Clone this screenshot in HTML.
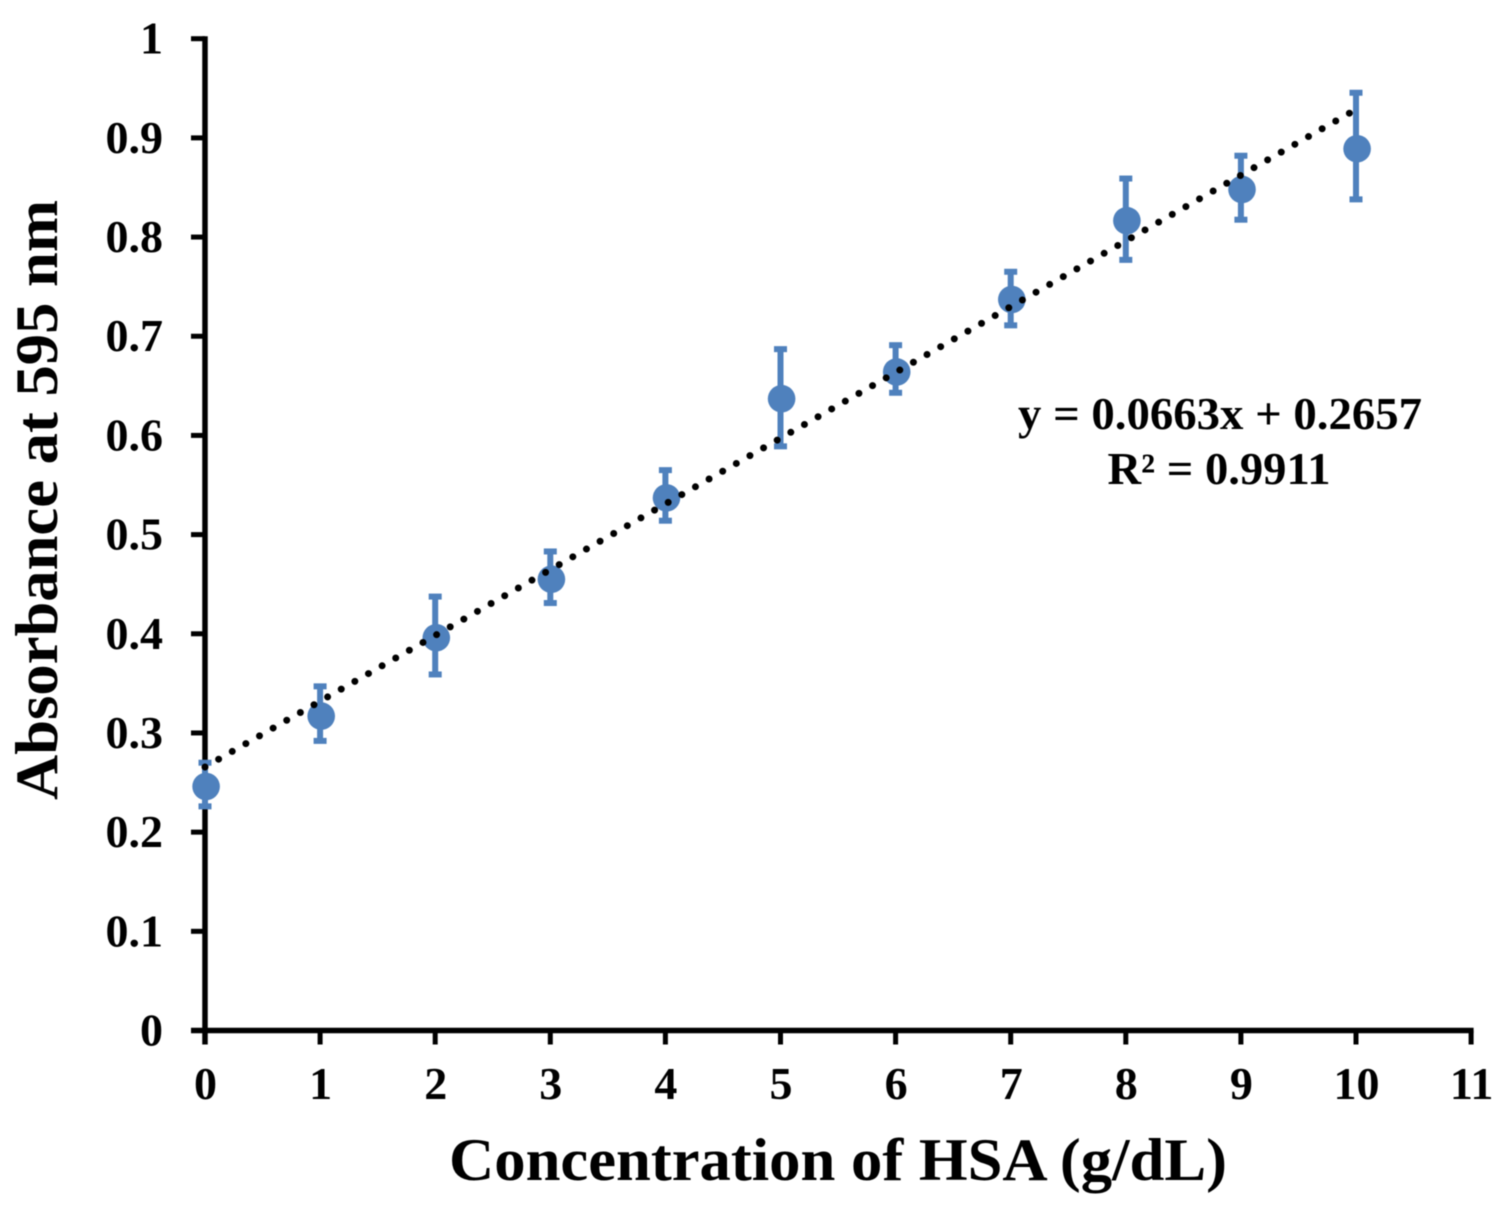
<!DOCTYPE html>
<html lang="en">
<head>
<meta charset="utf-8">
<title>Absorbance at 595 nm vs Concentration of HSA</title>
<style>
html,body{margin:0;padding:0;background:#fff;width:1507px;height:1211px;overflow:hidden}
svg{display:block;filter:blur(0.6px)}
text{font-family:"Liberation Serif",serif;font-weight:bold;fill:#000}
</style>
</head>
<body>
<svg id="chart" xmlns="http://www.w3.org/2000/svg" width="1507" height="1211" viewBox="0 0 1507 1211">
<rect width="1507" height="1211" fill="#fff"/>
<g id="axes"></g>
<g id="series"></g>
<text x="838" y="1180" text-anchor="middle" font-size="60" textLength="778" lengthAdjust="spacingAndGlyphs">Concentration of HSA (g/dL)</text>
<text transform="translate(57,500) rotate(-90)" text-anchor="middle" font-size="60" textLength="600" lengthAdjust="spacingAndGlyphs">Absorbance at 595 nm</text>
<text x="1220" y="429" text-anchor="middle" font-size="45" textLength="404" lengthAdjust="spacingAndGlyphs">y = 0.0663x + 0.2657</text>
<text x="1219" y="484" text-anchor="middle" font-size="45" textLength="223" lengthAdjust="spacingAndGlyphs">R² = 0.9911</text>
</svg>
<script>
const xValues = [0, 1, 2, 3, 4, 5, 6, 7, 8, 9, 10];
const yValues = [0.246, 0.317, 0.396, 0.455, 0.537, 0.637, 0.664, 0.737, 0.8165, 0.848, 0.889];
const errUpper = [0.270, 0.347, 0.4375, 0.483, 0.565, 0.687, 0.691, 0.765, 0.859, 0.882, 0.9455];
const errLower = [0.226, 0.292, 0.359, 0.431, 0.514, 0.589, 0.643, 0.711, 0.777, 0.8175, 0.838];
const xTickValues = [0, 1, 2, 3, 4, 5, 6, 7, 8, 9, 10, 11];
const yTickValues = [0, 0.1, 0.2, 0.3, 0.4, 0.5, 0.6, 0.7, 0.8, 0.9, 1];
const trendSlope = 0.0663;
const trendIntercept = 0.2657;
const trendEndX = 9.96;

const NS = 'http://www.w3.org/2000/svg';
const sx = v => 205 + v * 115.1;
const sy = v => 1030.5 - v * 991.8;
function mk(parent, tag, attrs, txt) {
  const el = document.createElementNS(NS, tag);
  for (const k in attrs) el.setAttribute(k, attrs[k]);
  if (txt !== undefined) el.textContent = txt;
  parent.appendChild(el);
  return el;
}
const axes = document.getElementById('axes');
const series = document.getElementById('series');

const yAxis = mk(axes, 'line', {x1: sx(0), x2: sx(0), y1: sy(1) - 2.5, y2: sy(0) + 14, stroke: '#000', 'stroke-width': 5.5});


const xAxis = mk(axes, 'line', {x1: sx(0) - 14, x2: sx(11) + 2.5, y1: sy(0), y2: sy(0), stroke: '#000', 'stroke-width': 5.5});



yTickValues.forEach(v => {
  const t = mk(axes, 'line', {x1: sx(0) - 14, x2: sx(0), y1: sy(v), y2: sy(v), stroke: '#000', 'stroke-width': 5});
  
  
  const l = mk(axes, 'text', {x: 163, y: sy(v) + 15, 'text-anchor': 'end', 'font-size': 46}, String(v));
  
  
});
xTickValues.forEach(v => {
  const t = mk(axes, 'line', {x1: sx(v), x2: sx(v), y1: sy(0), y2: sy(0) + 14, stroke: '#000', 'stroke-width': 5});
  
  
  const l = mk(axes, 'text', {x: sx(v) + 0.5, y: 1099, 'text-anchor': 'middle', 'font-size': 46}, String(v));
  
  
});

xValues.forEach((x, i) => {
  const cx = sx(x);
  const bar = mk(series, 'line', {x1: cx, x2: cx, y1: sy(errUpper[i]), y2: sy(errLower[i]), stroke: '#4f81bd', 'stroke-width': 6});
  
  
  [errUpper[i], errLower[i]].forEach(e => {
    const cap = mk(series, 'line', {x1: cx - 6.5, x2: cx + 6.5, y1: sy(e), y2: sy(e), stroke: '#4f81bd', 'stroke-width': 6});
    
    
  });
});
xValues.forEach((x, i) => {
  const c = mk(series, 'circle', {cx: sx(x) + 1.1, cy: sy(yValues[i]), r: 13.8, fill: '#4f81bd'});
  
  
});

const tl = mk(series, 'line', {
  x1: sx(0), y1: sy(trendIntercept),
  x2: sx(trendEndX), y2: sy(trendSlope * trendEndX + trendIntercept),
  stroke: '#000', 'stroke-width': 7, 'stroke-linecap': 'round', 'stroke-dasharray': '0 15.69'
});


</script>
</body>
</html>
